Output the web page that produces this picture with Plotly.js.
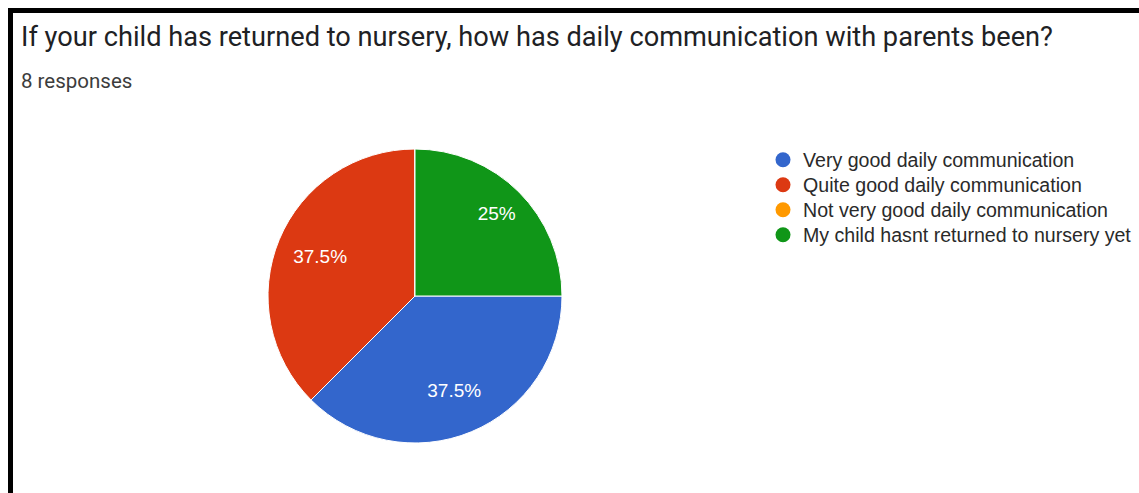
<!DOCTYPE html>
<html>
<head>
<meta charset="utf-8">
<script src="https://cdn.plot.ly/plotly-3.0.1.min.js"></script>
<style>html,body{margin:0;padding:0;background:#fff;}#chart{width:1139px;height:493px;}</style>
</head>
<body>
<div id="chart"></div>
<script>
const titleText = "If your child has returned to nursery, how has daily communication with parents been?";
const subtitleText = "8 responses";
const categories = [
  "Very good daily communication",
  "Quite good daily communication",
  "Not very good daily communication",
  "My child hasnt returned to nursery yet"
];
const responses = [3, 3, 0, 2];
const colors = ["#3366cc", "#dc3912", "#ff9900", "#109618"];

const W = 1139, H = 493;
const cx = 415, cy = 296, r = 147;
const rText = 198;

function domainFor(rad) {
  return {x: [(cx - rad) / W, (cx + rad) / W], y: [(H - cy - rad) / H, (H - cy + rad) / H]};
}

const pieTrace = {
  type: "pie",
  labels: categories,
  values: responses,
  sort: false,
  direction: "clockwise",
  rotation: 90,
  marker: {colors: colors, line: {color: "#ffffff", width: 1}},
  textinfo: "none",
  showlegend: false,
  hoverinfo: "label+percent",
  domain: domainFor(r)
};

// transparent companion pie used only to place the percentage labels further out
const labelTrace = {
  type: "pie",
  labels: categories,
  values: responses,
  sort: false,
  direction: "clockwise",
  rotation: 90,
  marker: {colors: categories.map(() => "rgba(0,0,0,0)"), line: {width: 0}},
  textinfo: "percent",
  textposition: "inside",
  insidetextorientation: "horizontal",
  textfont: {family: "Liberation Sans, Arial, sans-serif", size: 19, color: "#ffffff"},
  showlegend: false,
  hoverinfo: "skip",
  domain: domainFor(rText)
};

const legendRowsY = [160, 185, 210, 235];
const legendNames = ["legend", "legend2", "legend3", "legend4"];
const legendTraces = categories.map((c, i) => ({
  type: "scatter",
  mode: "markers",
  x: [null], y: [null],
  name: c,
  legend: legendNames[i],
  marker: {color: colors[i], size: 15, symbol: "circle"},
  showlegend: true,
  hoverinfo: "skip"
}));

const layout = {
  width: W, height: H,
  margin: {l: 0, r: 0, t: 0, b: 0},
  paper_bgcolor: "#ffffff",
  plot_bgcolor: "#ffffff",
  xaxis: {visible: false, domain: [0.99, 1]},
  yaxis: {visible: false, domain: [0, 0.01]},
  annotations: [
    {text: titleText, xref: "paper", yref: "paper", x: 19 / W, y: 1 - 37 / H,
     xanchor: "left", yanchor: "middle", showarrow: false,
     font: {family: "Roboto, sans-serif", size: 27.2, color: "#202124"}},
    {text: subtitleText, xref: "paper", yref: "paper", x: 19 / W, y: 1 - 81 / H,
     xanchor: "left", yanchor: "middle", showarrow: false,
     font: {family: "Roboto, sans-serif", size: 20.5, color: "#3c3c3c"}}
  ],
  shapes: [
    {type: "line", xref: "paper", yref: "paper", x0: 10.5 / W, x1: 10.5 / W, y0: 0, y1: 1 - 8 / H,
     line: {color: "#000000", width: 5}},
    {type: "line", xref: "paper", yref: "paper", x0: 8 / W, x1: 1, y0: 1 - 10.5 / H, y1: 1 - 10.5 / H,
     line: {color: "#000000", width: 5}}
  ]
};
legendNames.forEach((ln, i) => {
  layout[ln] = {
    x: 763 / W, xanchor: "left",
    y: 1 - legendRowsY[i] / H, yanchor: "middle",
    bgcolor: "rgba(0,0,0,0)",
    font: {family: "Liberation Sans, Arial, sans-serif", size: 19.6, color: "#2a2a2a"}
  };
});

Plotly.newPlot("chart", [pieTrace, labelTrace].concat(legendTraces), layout, {displayModeBar: false, staticPlot: true});
</script>
</body>
</html>
